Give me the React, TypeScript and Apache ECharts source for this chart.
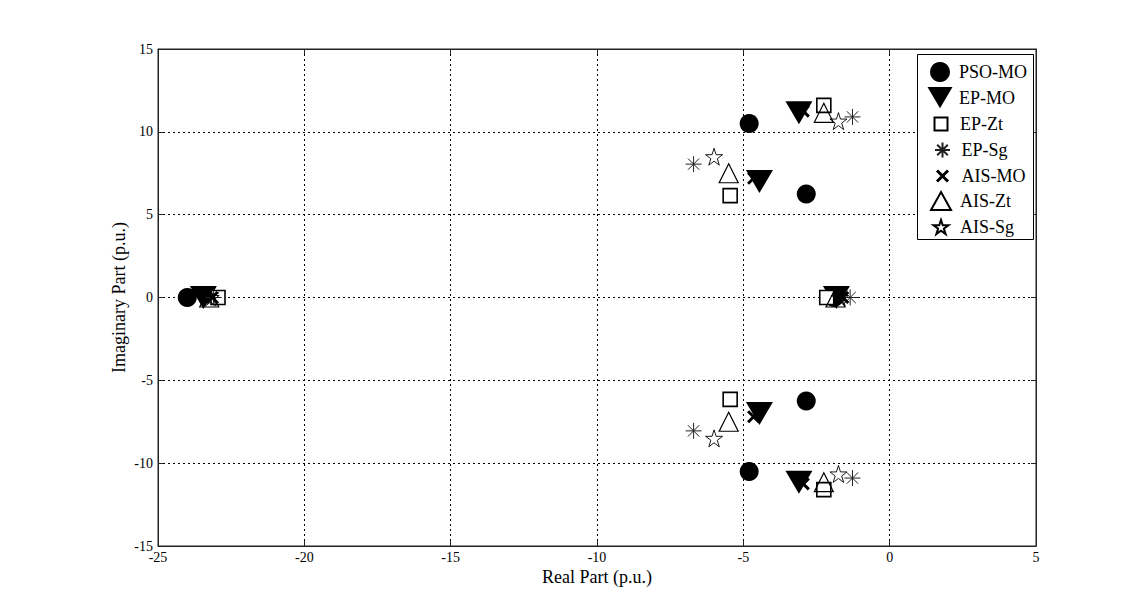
import React, { useEffect, useRef } from "react";
import * as echarts from "echarts";

const xTicks = { min: -25, max: 5, interval: 5 };
const yTicks = { min: -15, max: 15, interval: 5 };

const seriesNames = ["PSO-MO", "EP-MO", "EP-Zt", "EP-Sg", "AIS-MO", "AIS-Zt", "AIS-Sg"];

const psoMO = [[-4.8, 10.5], [-4.8, -10.5], [-2.85, 6.25], [-2.85, -6.25], [-24.0, 0], [-1.9, 0]];
const epMO = [[-3.1, 11.15], [-3.1, -11.15], [-4.45, 7.0], [-4.45, -7.0], [-23.45, 0], [-1.82, 0]];
const epZt = [[-2.25, 11.6], [-2.25, -11.6], [-5.45, 6.15], [-5.45, -6.15], [-22.95, 0], [-2.15, 0]];
const epSg = [[-1.27, 10.9], [-1.27, -10.9], [-6.7, 8.05], [-6.7, -8.05], [-23.1, 0], [-1.35, 0]];
const aisMO = [[-2.95, 11.25], [-2.95, -11.25], [-4.65, 7.2], [-4.65, -7.2], [-23.15, 0], [-1.6, 0]];
const aisZt = [[-2.25, 11.15], [-2.25, -11.15], [-5.5, 7.5], [-5.5, -7.5], [-23.25, 0], [-1.85, 0]];
const aisSg = [[-1.75, 10.65], [-1.75, -10.65], [-6.0, 8.5], [-6.0, -8.5], [-23.2, 0], [-1.7, 0]];

const STAR =
  "path://M0,-1L0.2245,-0.309L0.9511,-0.309L0.3633,0.118L0.5878,0.809L0,0.382L-0.5878,0.809L-0.3633,0.118L-0.9511,-0.309L-0.2245,-0.309Z";
const ASTERISK =
  "path://M0,-1L0,1M-1,0L1,0M-0.707,-0.707L0.707,0.707M-0.707,0.707L0.707,-0.707";
const XMARK = "path://M-1,-1L1,1M-1,1L1,-1";
const TRI_DOWN = "path://M-1,-0.85L1,-0.85L0,0.85Z";

const FONT = "'Liberation Serif', 'Times New Roman', serif";

export default function App() {
  const ref = useRef<HTMLDivElement>(null);
  useEffect(() => {
    if (!ref.current) return;
    const chart = echarts.init(ref.current, undefined, { renderer: "svg" });
    const gridLeft = 158;
    const gridTop = 49;
    const gridW = 878;
    const gridH = 497;

    const splitLine = { show: true, lineStyle: { color: "#000", type: [2, 3], width: 1 } };

    // legend layout (one legend component per entry, for exact spacing)
    const legendRows = [72, 98, 124, 150, 176, 201, 227];
    const legendIcon: Record<string, { w: number; h: number; icon?: string; itemStyle?: any }> = {
      "PSO-MO": { w: 20, h: 20 },
      "EP-MO": { w: 25, h: 22, icon: TRI_DOWN },
      "EP-Zt": { w: 13, h: 13 },
      "EP-Sg": { w: 15, h: 15 },
      "AIS-MO": { w: 11, h: 11, itemStyle: { borderWidth: 3, borderColor: "#000" } },
      "AIS-Zt": { w: 20, h: 18 },
      "AIS-Sg": { w: 15, h: 15 },
    };
    const iconCx = 940;
    const textX = 959;
    const textH = 20;
    const legends = seriesNames.map((name, i) => {
      const ic = legendIcon[name];
      const itemH = Math.max(ic.h, textH);
      const item: any = { name };
      if (ic.icon) item.icon = ic.icon;
      if (ic.itemStyle) item.itemStyle = ic.itemStyle;
      return {
        orient: "horizontal",
        left: iconCx - ic.w / 2,
        top: legendRows[i] - itemH / 2,
        padding: 0,
        itemWidth: ic.w,
        itemHeight: ic.h,
        selectedMode: false,
        textStyle: {
          fontFamily: FONT,
          fontSize: 18,
          color: "#000",
          lineHeight: textH,
          height: textH,
          padding: [0, 0, 0, textX - (iconCx + ic.w / 2 + 5)],
        },
        data: [item],
        z: 6,
      };
    });

    chart.setOption({
      animation: false,
      backgroundColor: "#fff",
      textStyle: { fontFamily: FONT },
      grid: {
        left: gridLeft,
        top: gridTop,
        width: gridW,
        height: gridH,
        show: true,
        borderColor: "#222",
        borderWidth: 1,
        backgroundColor: "transparent",
      },
      graphic: [
        {
          type: "rect",
          left: 917,
          top: 54,
          shape: { width: 116, height: 185 },
          style: { fill: "#fff", stroke: "#000", lineWidth: 1 },
          z: 5,
        },
      ],
      legend: legends,
      xAxis: [
        {
          type: "value",
          ...xTicks,
          position: "bottom",
          name: "Real Part (p.u.)",
          nameLocation: "middle",
          nameGap: 22,
          nameMoveOverlap: false,
          nameTextStyle: { fontFamily: FONT, fontSize: 18, color: "#000" },
          axisLine: { show: true, onZero: false, lineStyle: { color: "#222" } },
          axisTick: { show: true, inside: true, length: 5, lineStyle: { color: "#222" } },
          axisLabel: { fontFamily: FONT, fontSize: 14, color: "#000", margin: 4 },
          splitLine,
        },
        {
          type: "value",
          ...xTicks,
          position: "top",
          axisLine: { show: true, onZero: false, lineStyle: { color: "#222" } },
          axisTick: { show: true, inside: true, length: 5, lineStyle: { color: "#222" } },
          axisLabel: { show: false },
          splitLine: { show: false },
        },
      ],
      yAxis: [
        {
          type: "value",
          ...yTicks,
          position: "left",
          name: "Imaginary Part (p.u.)",
          nameLocation: "middle",
          nameGap: 30,
          nameMoveOverlap: false,
          nameTextStyle: { fontFamily: FONT, fontSize: 18, color: "#000" },
          axisLine: { show: true, onZero: false, lineStyle: { color: "#222" } },
          axisTick: { show: true, inside: true, length: 5, lineStyle: { color: "#222" } },
          axisLabel: { fontFamily: FONT, fontSize: 14, color: "#000", margin: 5 },
          splitLine,
        },
        {
          type: "value",
          ...yTicks,
          position: "right",
          axisLine: { show: true, onZero: false, lineStyle: { color: "#222" } },
          axisTick: { show: true, inside: true, length: 5, lineStyle: { color: "#222" } },
          axisLabel: { show: false },
          splitLine: { show: false },
        },
      ],
      series: [
        {
          name: "PSO-MO",
          type: "scatter",
          data: psoMO,
          symbol: "circle",
          symbolSize: 19,
          itemStyle: { color: "#000", opacity: 1 },
          z: 2,
        },
        {
          name: "EP-MO",
          type: "scatter",
          data: epMO,
          symbol: TRI_DOWN,
          symbolSize: [27, 23],
          itemStyle: { color: "#000", opacity: 1 },
          z: 3,
        },
        {
          name: "EP-Zt",
          type: "scatter",
          data: epZt,
          symbol: "rect",
          symbolSize: 14,
          itemStyle: { color: "#fff", borderColor: "#000", borderWidth: 1.6, opacity: 1 },
          z: 4,
        },
        {
          name: "EP-Sg",
          type: "scatter",
          data: epSg,
          symbol: ASTERISK,
          symbolSize: 16,
          itemStyle: { color: "none", borderColor: "#222", borderWidth: 1, opacity: 1 },
          z: 5,
        },
        {
          name: "AIS-MO",
          type: "scatter",
          data: aisMO,
          symbol: XMARK,
          symbolSize: 11,
          itemStyle: { color: "none", borderColor: "#000", borderWidth: 3, opacity: 1 },
          z: 6,
        },
        {
          name: "AIS-Zt",
          type: "scatter",
          data: aisZt,
          symbol: "triangle",
          symbolSize: [19, 19],
          itemStyle: { color: "rgba(255,255,255,0)", borderColor: "#000", borderWidth: 1.2, opacity: 1 },
          z: 7,
        },
        {
          name: "AIS-Sg",
          type: "scatter",
          data: aisSg,
          symbol: STAR,
          symbolSize: 17,
          itemStyle: { color: "rgba(255,255,255,0)", borderColor: "#000", borderWidth: 0.9, opacity: 1 },
          z: 8,
        },
      ],
    });
    return () => chart.dispose();
  }, []);

  return (
    <div
      style={{
        position: "fixed",
        left: 0,
        top: 0,
        width: 1136,
        height: 608,
        background: "#fff",
        border: "1px solid #d4d4d4",
        boxSizing: "border-box",
      }}
    >
      <div ref={ref} style={{ position: "absolute", left: -1, top: -1, width: 1136, height: 608 }} />
    </div>
  );
}
